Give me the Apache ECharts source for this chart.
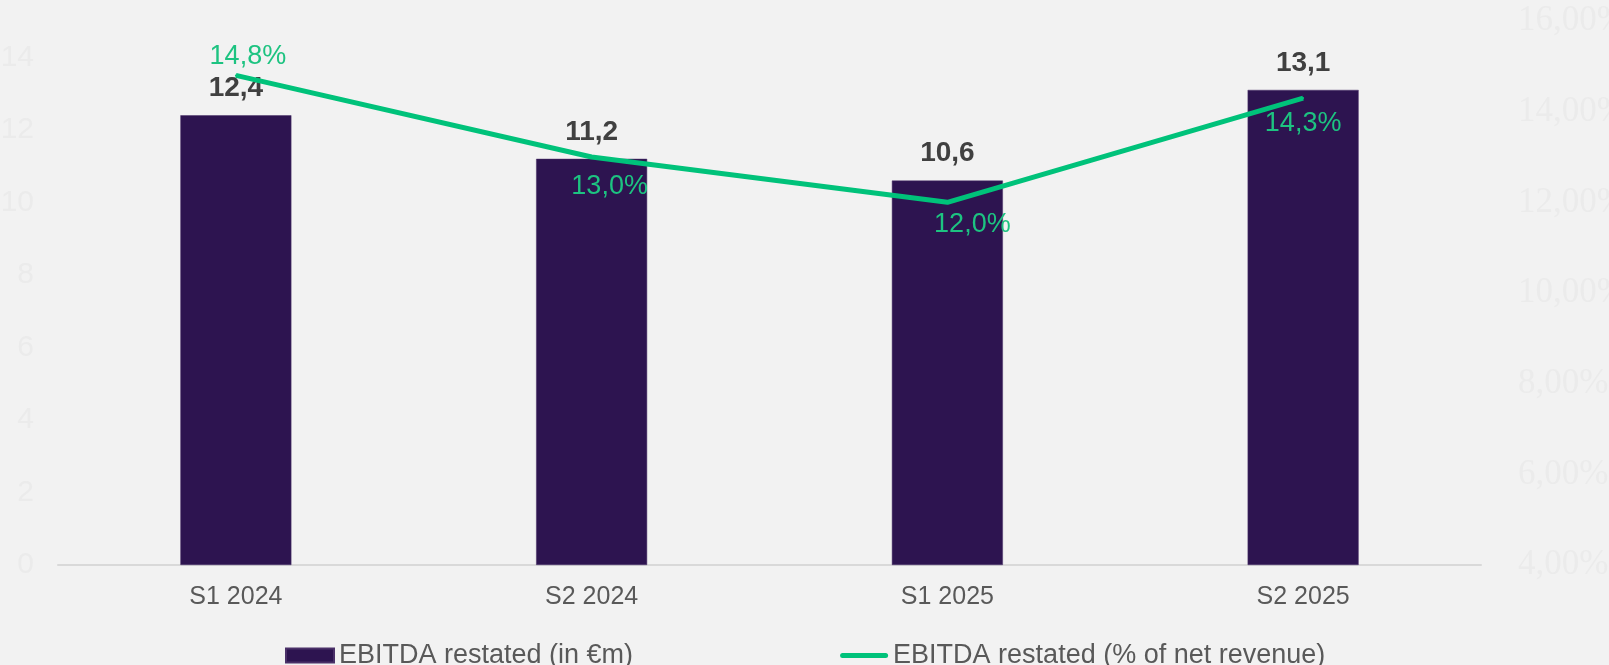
<!DOCTYPE html>
<html>
<head>
<meta charset="utf-8">
<script src="https://cdn.jsdelivr.net/npm/echarts@6/dist/echarts.min.js"></script>
<style>
  html, body { margin: 0; padding: 0; background: #f2f2f2; overflow: hidden; }
  #chart { width: 1609px; height: 665px; }
</style>
</head>
<body>
<div id="chart"></div>
<script>
var periods = ['S1 2024', 'S2 2024', 'S1 2025', 'S2 2025'];
var ebitdaValues = [12.4, 11.2, 10.6, 13.1];
var marginValues = [14.8, 13.0, 12.0, 14.3];

// where each margin label sits relative to its point
var marginLabelPlace = [
    { position: 'top', distance: 4, offset: [12, 0] },
    { position: 'bottom', distance: 15, offset: [18, 0] },
    { position: 'bottom', distance: 8, offset: [25, 0] },
    { position: 'bottom', distance: 11, offset: [0, 0] }
];

function comma(v, d) {
    return v.toFixed(d).replace('.', ',');
}

var chart = echarts.init(document.getElementById('chart'));

var option = {
    backgroundColor: '#f2f2f2',
    animation: false,
    textStyle: { fontFamily: 'Liberation Sans, Arial, sans-serif' },
    grid: { left: 58, right: 128, top: 21, bottom: 100, containLabel: false, outerBoundsMode: 'none' },
    legend: {
        left: 280,
        top: 637,
        itemWidth: 48,
        itemHeight: 14,
        itemGap: 207,
        textStyle: { color: '#595959', fontSize: 27, fontFamily: 'Liberation Sans, Arial, sans-serif' },
        data: [
            { name: 'EBITDA restated (in €m)', icon: 'rect' },
            { name: 'EBITDA restated (% of net revenue)', icon: 'path://M2.5,0 H45.5 A2.5,2.5 0 0 1 45.5,5 H2.5 A2.5,2.5 0 0 1 2.5,0 Z' }
        ]
    },
    xAxis: {
        type: 'category',
        data: periods,
        axisTick: { show: false },
        axisLine: { lineStyle: { color: '#d9d9d9', width: 2 } },
        axisLabel: { color: '#595959', fontSize: 25, margin: 20 }
    },
    yAxis: [
        {
            type: 'value',
            min: 0,
            max: 15,
            interval: 2,
            splitLine: { show: false },
            axisLine: { show: false },
            axisTick: { show: false },
            axisLabel: { color: '#ebebeb', fontSize: 30, margin: 24, showMaxLabel: false }
        },
        {
            type: 'value',
            min: 4,
            max: 16,
            interval: 2,
            splitLine: { show: false },
            axisLine: { show: false },
            axisTick: { show: false },
            axisLabel: {
                color: '#ebebeb',
                fontSize: 35,
                margin: 37,
                fontFamily: 'Liberation Serif, Times New Roman, serif',
                formatter: function (v) { return comma(v, 2) + '%'; }
            }
        }
    ],
    series: [
        {
            name: 'EBITDA restated (in €m)',
            type: 'bar',
            data: ebitdaValues,
            barWidth: 111,
            itemStyle: { color: '#2d1450', borderColor: '#4a3068', borderWidth: 0.5 },
            label: {
                show: true,
                position: 'top',
                distance: 13,
                color: '#404040',
                fontSize: 28,
                fontWeight: 'bold',
                formatter: function (p) { return comma(p.value, 1); }
            }
        },
        {
            name: 'EBITDA restated (% of net revenue)',
            type: 'line',
            yAxisIndex: 1,
            z: 3,
            symbol: 'circle',
            symbolSize: 2,
            showSymbol: true,
            lineStyle: { color: '#00c27a', width: 5 },
            itemStyle: { color: '#00c27a' },
            data: marginValues.map(function (v, i) {
                return { value: v, label: marginLabelPlace[i] };
            }),
            label: {
                show: true,
                color: '#1dc381',
                fontSize: 27,
                formatter: function (p) { return comma(p.value, 1) + '%'; }
            }
        }
    ]
};

chart.setOption(option);
</script>
</body>
</html>
